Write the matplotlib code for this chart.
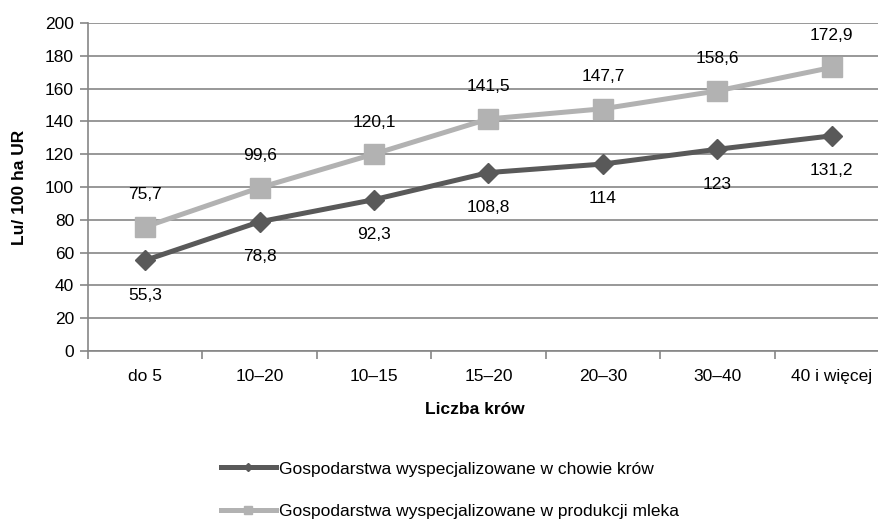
import matplotlib.pyplot as plt
import numpy as np

categories = ["do 5", "10\u201320", "10\u201315", "15\u201320", "20\u201330", "30\u201340", "40 i wi\u0119cej"]
chow = [55.3, 78.8, 92.3, 108.8, 114, 123, 131.2]
mleko = [75.7, 99.6, 120.1, 141.5, 147.7, 158.6, 172.9]
chow_labels = ["55,3", "78,8", "92,3", "108,8", "114", "123", "131,2"]
mleko_labels = ["75,7", "99,6", "120,1", "141,5", "147,7", "158,6", "172,9"]

plt.rcParams['font.family'] = ['Liberation Sans', 'DejaVu Sans']

fig = plt.figure(figsize=(8.79, 5.24), dpi=100)
ax = fig.add_axes([88 / 879, 1 - 351 / 524, 801 / 879, 328 / 524])

x = np.arange(len(categories))
dark = '#595959'
light = '#b2b2b2'

ax.plot(x, chow, color=dark, lw=3.6, marker='D', markersize=10, label="Gospodarstwa wyspecjalizowane w chowie kr\u00f3w", zorder=3)
ax.plot(x, mleko, color=light, lw=3.6, marker='s', markersize=14, label="Gospodarstwa wyspecjalizowane w produkcji mleka", zorder=3)

for xi, v, t in zip(x, chow, chow_labels):
    ax.annotate(t, (xi, v), xytext=(0, -25), textcoords='offset points', ha='center', va='center', fontsize=12.5)
for xi, v, t in zip(x, mleko, mleko_labels):
    ax.annotate(t, (xi, v), xytext=(0, 23), textcoords='offset points', ha='center', va='center', fontsize=12.5)

ax.set_xlim(-0.5, 6.5)
ax.set_ylim(0, 200)
ax.set_yticks(range(0, 201, 20))
ax.set_xticks(x)
ax.set_xticklabels(categories)
ax.set_xticks(np.arange(-0.5, 6.6, 1), minor=True)
ax.tick_params(axis='x', which='major', length=0, pad=13, labelsize=12.5)
ax.tick_params(axis='x', which='minor', length=6, color='#868686', width=1.2)
ax.tick_params(axis='y', length=6, color='#868686', width=1.2, labelsize=12.5, pad=4)
ax.yaxis.grid(True, color='#868686', lw=1.2)
ax.set_axisbelow(True)
for s in ['top', 'right']:
    ax.spines[s].set_visible(False)
for s in ['left', 'bottom']:
    ax.spines[s].set_color('#868686')
    ax.spines[s].set_linewidth(1.2)

fig.text(475 / 879, 1 - 409 / 524, "Liczba kr\u00f3w", ha='center', va='center', fontsize=12.5, fontweight='bold')
fig.text(20 / 879, 1 - 187 / 524, "Lu/ 100 ha UR", ha='center', va='center', rotation=90, fontsize=12.5, fontweight='bold')

fig.legend(loc='center left', bbox_to_anchor=(205 / 879, 1 - 490 / 524), frameon=False, fontsize=12.5,
           handlelength=3.2, handletextpad=0.15, labelspacing=1.55, markerscale=0.45)

fig.savefig("out.png", dpi=100)
